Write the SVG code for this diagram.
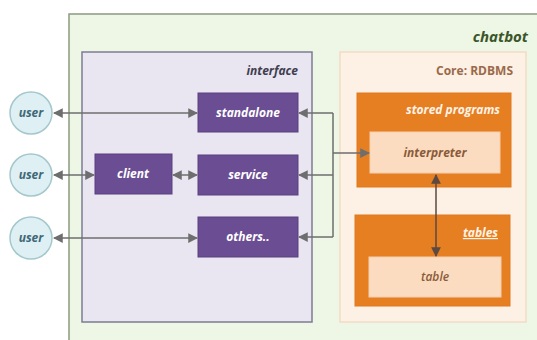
<svg xmlns="http://www.w3.org/2000/svg" width="537" height="340" viewBox="0 0 537 340">
<style>
text{font-family:"Open Sans","Noto Sans","DejaVu Sans",sans-serif;font-weight:bold;font-style:italic;font-size:12px}
.pbox{fill:#6a4d93;stroke:#5a4080;stroke-width:1}
.ptxt{fill:#ffffff;text-anchor:middle}
.user{fill:#def0f3;stroke:#a4c8cc;stroke-width:1.5}
.utxt{fill:#3f6878;text-anchor:middle}
.conn{stroke:#6e6e6e;stroke-width:1.5;fill:none}
.obox{fill:#e67e22;stroke:#e07a20}
.ibox{fill:#fbdcc0;stroke:#f5cfae}
</style>
<defs>
<marker id="ah" viewBox="0 0 10 10" refX="9" refY="5" markerWidth="6.5" markerHeight="6.5" orient="auto-start-reverse" markerUnits="strokeWidth">
<path d="M0,0 L10,5 L0,10 z" fill="#6e6e6e"/>
</marker>
<marker id="ahb" viewBox="0 0 10 10" refX="9" refY="5" markerWidth="6.5" markerHeight="6.5" orient="auto-start-reverse" markerUnits="strokeWidth">
<path d="M0,0 L10,5 L0,10 z" fill="#5a4a42"/>
</marker>
</defs>
<rect width="537" height="340" fill="#ffffff"/>
<g id="chatbot">
<rect x="69" y="14" width="475" height="340" fill="#eef6e6" stroke="#8c9a80" stroke-width="1.5"/>
<text x="528" y="42" fill="#3a552a" text-anchor="end" style="font-size:15px">chatbot</text>
</g>
<g id="interface">
<rect x="82" y="52" width="230" height="270" fill="#e9e5f1" stroke="#7c7c92" stroke-width="1.5"/>
<text x="298" y="75" fill="#3e3e50" text-anchor="end">interface</text>
</g>
<g id="core">
<rect x="340" y="52" width="186" height="270" fill="#fdf0e4" stroke="#f2dcc6" stroke-width="1.5"/>
<text x="513" y="75" fill="#9a6a4a" text-anchor="end" style="font-style:normal">Core: RDBMS</text>
</g>
<g id="stored-programs">
<rect class="obox" x="357" y="93" width="154" height="94"/>
<text x="500" y="114" fill="#fff3e6" text-anchor="end">stored programs</text>
</g>
<g id="interpreter">
<rect class="ibox" x="370" y="132" width="130" height="41"/>
<text x="435" y="157" fill="#8a5a3a" text-anchor="middle">interpreter</text>
</g>
<g id="tables">
<rect class="obox" x="355" y="215" width="155" height="91"/>
<text x="498" y="237" fill="#fff3e6" text-anchor="end" text-decoration="underline">tables</text>
</g>
<g id="table">
<rect class="ibox" x="369" y="257" width="132" height="40"/>
<text x="435" y="281" fill="#8a5a3a" text-anchor="middle" style="font-weight:600">table</text>
</g>
<g id="standalone">
<rect class="pbox" x="198" y="93" width="100" height="39"/>
<text class="ptxt" x="248" y="117">standalone</text>
</g>
<g id="service">
<rect class="pbox" x="198" y="155" width="100" height="40"/>
<text class="ptxt" x="248" y="179">service</text>
</g>
<g id="others">
<rect class="pbox" x="198" y="217" width="100" height="40"/>
<text class="ptxt" x="248" y="241">others..</text>
</g>
<g id="client">
<rect class="pbox" x="95" y="154" width="77" height="40"/>
<text class="ptxt" x="133" y="178">client</text>
</g>
<g id="user1">
<circle class="user" cx="31" cy="113" r="21"/>
<text class="utxt" x="31" y="117">user</text>
</g>
<g id="user2">
<circle class="user" cx="31" cy="175" r="21"/>
<text class="utxt" x="31" y="179">user</text>
</g>
<g id="user3">
<circle class="user" cx="31" cy="238" r="21"/>
<text class="utxt" x="31" y="242">user</text>
</g>
<g id="connectors">
<line class="conn" x1="54" y1="113" x2="197" y2="113" marker-start="url(#ah)" marker-end="url(#ah)"/>
<line class="conn" x1="54" y1="175" x2="94" y2="175" marker-start="url(#ah)" marker-end="url(#ah)"/>
<line class="conn" x1="173" y1="175" x2="197" y2="175" marker-start="url(#ah)" marker-end="url(#ah)"/>
<line class="conn" x1="54" y1="238" x2="197" y2="238" marker-start="url(#ah)" marker-end="url(#ah)"/>
<polyline class="conn" points="333,113 333,237"/>
<line class="conn" x1="333" y1="113" x2="299" y2="113" marker-end="url(#ah)"/>
<line class="conn" x1="333" y1="175" x2="299" y2="175" marker-end="url(#ah)"/>
<line class="conn" x1="333" y1="237" x2="299" y2="237" marker-end="url(#ah)"/>
<line class="conn" x1="333" y1="153" x2="369" y2="153" marker-end="url(#ah)"/>
<line x1="436" y1="175" x2="436" y2="256" stroke="#5a4a42" stroke-width="1.5" marker-start="url(#ahb)" marker-end="url(#ahb)"/>
</g>
</svg>
